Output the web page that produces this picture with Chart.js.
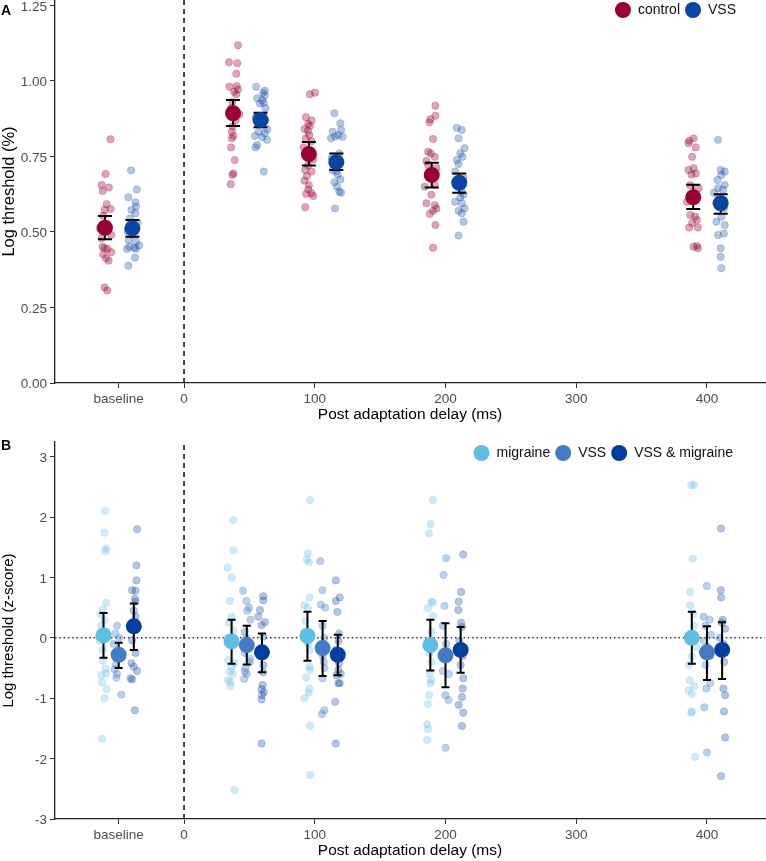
<!DOCTYPE html>
<html>
<head>
<meta charset="utf-8">
<script src="https://cdn.jsdelivr.net/npm/chart.js@4.4.1/dist/chart.umd.min.js"></script>
<style>
  html, body { margin: 0; padding: 0; background: #fff; }
  #wrapA { position: absolute; left: 0; top: 0; }
  #wrapB { position: absolute; left: 0; top: 425px; }
</style>
</head>
<body>
<div id="wrapA"><canvas id="chartA" width="766" height="425"></canvas></div>
<div id="wrapB"><canvas id="chartB" width="766" height="436"></canvas></div>
<script>
const delays = [-50, 48, 106, 200, 400];
const xTicks = [-50, 0, 100, 200, 300, 400];
const yTicksA = [0, 0.25, 0.5, 0.75, 1, 1.25];
const yTicksB = [-3, -2, -1, 0, 1, 2, 3];

// panel A, group means with error bars
const controlMean = [0.514, 0.893, 0.758, 0.689, 0.615];
const controlLo = [0.476, 0.851, 0.720, 0.647, 0.576];
const controlHi = [0.553, 0.937, 0.798, 0.729, 0.656];
const vssMeanA = [0.512, 0.871, 0.731, 0.663, 0.595];
const vssLoA = [0.484, 0.847, 0.705, 0.630, 0.560];
const vssHiA = [0.540, 0.895, 0.760, 0.694, 0.625];

// panel A, participants: [jitter, value] per delay
const controlPts = [
  [[4.3,0.807],[0.5,0.692],[-2.5,0.656],[3.0,0.647],[-1.8,0.636],[1.3,0.592],[-0.3,0.573],[4.3,0.576],[-1.3,0.554],[-3.8,0.512],[4.8,0.49],[-2.5,0.479],[-1.8,0.451],[-0.3,0.446],[1.8,0.444],[4.8,0.433],[-1.3,0.426],[0.8,0.413],[2.8,0.405],[-0.3,0.316],[1.8,0.306]],
  [[3.8,1.118],[-3.1,1.062],[3.2,1.059],[2.5,1.024],[-2.8,0.981],[2.8,0.983],[3.8,0.972],[0.8,0.964],[2.5,0.956],[-0.5,0.93],[-1.5,0.91],[4.8,0.89],[2.0,0.87],[-0.3,0.849],[-1.0,0.832],[0.3,0.818],[-1.0,0.810],[-1.5,0.780],[1.3,0.738],[0.3,0.694],[-0.5,0.689],[-1.8,0.658]],
  [[0.8,0.956],[4.6,0.961],[-2.3,0.880],[2.0,0.869],[-0.5,0.858],[0.8,0.851],[-3.3,0.841],[-0.8,0.835],[0.3,0.821],[-2.3,0.810],[2.0,0.80],[-4.1,0.78],[3.3,0.74],[-0.5,0.72],[-2.8,0.705],[2.0,0.700],[-1.5,0.685],[-3.3,0.670],[0.0,0.655],[-0.5,0.641],[-2.0,0.626],[2.0,0.628],[3.3,0.619],[-2.8,0.582]],
  [[2.8,0.918],[2.8,0.885],[-1.0,0.873],[-1.8,0.863],[1.0,0.808],[-2.8,0.766],[-0.8,0.76],[2.3,0.749],[-4.1,0.735],[-2.8,0.722],[3.6,0.711],[-1.5,0.683],[2.3,0.656],[-5.4,0.650],[-0.3,0.623],[-4.1,0.595],[2.3,0.589],[3.6,0.578],[1.0,0.570],[-1.5,0.56],[2.8,0.523],[1.0,0.448]],
  [[-3.1,0.802],[0.3,0.810],[2.0,0.780],[-3.6,0.794],[-0.8,0.749],[0.3,0.711],[-3.6,0.705],[2.0,0.694],[-1.3,0.69],[4.1,0.645],[-2.3,0.655],[1.5,0.62],[-4.8,0.60],[-2.3,0.556],[1.5,0.551],[2.8,0.540],[-3.1,0.515],[3.6,0.515],[-0.8,0.53],[0.3,0.451],[3.6,0.446],[2.8,0.454]]
];
const vssPtsA = [
  [[-1.0,0.704],[3.3,0.641],[-3.1,0.615],[2.3,0.598],[2.8,0.584],[-0.7,0.573],[2.3,0.562],[-1.8,0.545],[4.0,0.53],[-3.6,0.501],[0.0,0.49],[-2.8,0.473],[2.8,0.468],[-2.3,0.451],[1.5,0.448],[5.1,0.455],[-4.1,0.444],[2.8,0.444],[2.0,0.415],[-3.1,0.388]],
  [[-3.3,0.981],[3.3,0.968],[2.0,0.961],[3.3,0.952],[-2.5,0.943],[1.3,0.937],[-0.5,0.925],[2.5,0.928],[3.8,0.91],[-3.8,0.88],[3.8,0.87],[5.1,0.84],[-1.3,0.832],[3.3,0.827],[-4.3,0.818],[1.3,0.814],[5.1,0.805],[-2.5,0.788],[-3.8,0.780],[2.5,0.700]],
  [[-1.5,0.893],[3.1,0.860],[-2.8,0.832],[3.6,0.838],[1.5,0.821],[-1.0,0.816],[4.8,0.815],[-4.1,0.810],[2.3,0.760],[-3.6,0.745],[-2.8,0.705],[-0.3,0.70],[1.0,0.69],[3.1,0.674],[-1.5,0.665],[0.5,0.650],[2.3,0.634],[3.6,0.63],[-1.0,0.578]],
  [[-1.8,0.845],[2.0,0.838],[-0.5,0.810],[4.1,0.777],[0.8,0.760],[2.5,0.749],[-1.8,0.738],[-0.5,0.725],[-3.1,0.70],[3.3,0.678],[-1.8,0.656],[2.0,0.634],[3.3,0.623],[0.8,0.615],[-3.1,0.600],[2.0,0.595],[4.1,0.578],[-0.5,0.57],[2.0,0.562],[3.3,0.534],[-0.5,0.488]],
  [[-2.0,0.805],[0.0,0.705],[3.1,0.700],[0.5,0.689],[-2.5,0.672],[3.1,0.656],[-2.0,0.645],[1.8,0.64],[-5.1,0.63],[-0.8,0.617],[2.5,0.605],[-3.3,0.595],[1.5,0.585],[2.5,0.578],[-3.3,0.534],[0.5,0.55],[3.1,0.523],[-2.0,0.490],[2.5,0.495],[0.0,0.446],[0.0,0.418],[0.5,0.380]]
];

// panel B, z-scored group means with error bars
const migMean = [0.04, -0.06, 0.03, -0.12, 0.00];
const migLo = [-0.33, -0.43, -0.38, -0.54, -0.43];
const migHi = [0.41, 0.30, 0.43, 0.30, 0.43];
const vssMeanB = [-0.28, -0.12, -0.17, -0.29, -0.24];
const vssLoB = [-0.50, -0.44, -0.63, -0.82, -0.70];
const vssHiB = [-0.08, 0.20, 0.28, 0.24, 0.19];
const bothMean = [0.19, -0.24, -0.28, -0.20, -0.20];
const bothLo = [-0.20, -0.57, -0.62, -0.58, -0.68];
const bothHi = [0.57, 0.07, 0.05, 0.18, 0.26];

const migPts = [
  [[1.3,2.10],[0.8,1.74],[2.0,1.48],[1.5,1.44],[2.0,0.58],[-0.5,0.47],[-2.3,0.39],[0.8,0.29],[-1.8,0.20],[2.0,0.10],[-3.1,-0.05],[-0.5,-0.20],[-0.5,-0.38],[1.5,-0.51],[2.0,-0.59],[-1.8,-0.62],[-1.0,-0.74],[2.5,-0.85],[0.8,-1.00],[-1.0,-1.67]],
  [[1.3,1.95],[1.3,1.45],[-3.1,1.16],[0.0,1.00],[-1.3,0.61],[0.0,0.35],[-2.0,0.25],[1.3,0.12],[-3.6,0.00],[0.5,-0.10],[-2.8,-0.37],[2.3,-0.42],[0.0,-0.48],[-1.3,-0.56],[1.0,-0.60],[-2.8,-0.70],[-0.8,-0.73],[-1.0,-0.80],[2.0,-2.52]],
  [[2.0,2.28],[0.3,1.40],[-0.5,1.30],[1.0,1.25],[1.5,0.67],[-2.3,0.54],[0.3,0.50],[-1.5,0.28],[-2.3,0.10],[0.3,-0.10],[1.5,-0.20],[1.5,-0.48],[2.0,-0.53],[-1.0,-0.66],[1.5,-0.84],[1.0,-0.91],[-2.3,-1.00],[2.0,-1.46],[2.0,-2.27]],
  [[2.0,2.28],[0.3,1.88],[-1.0,1.73],[0.8,0.60],[2.0,0.58],[-1.8,0.49],[2.0,0.36],[0.8,0.10],[-0.5,-0.25],[0.8,-0.40],[-0.5,-0.59],[0.8,-0.70],[0.0,-0.75],[-1.0,-0.95],[-1.8,-1.10],[-2.3,-1.43],[-1.8,-1.51],[-2.5,-1.69]],
  [[-0.5,2.53],[1.8,2.53],[0.8,1.31],[-1.3,0.76],[-1.3,0.54],[1.3,0.40],[1.8,0.20],[0.0,0.05],[3.3,-0.15],[0.0,-0.31],[-2.0,-0.45],[-1.8,-0.70],[1.8,-0.80],[-2.5,-0.87],[0.0,-0.93],[0.0,-1.22],[-0.5,-1.24],[2.5,-1.97]]
];
const vssPtsB = [
  [[-1.3,0.20],[-2.5,0.07],[0.5,0.00],[-3.8,-0.10],[0.5,-0.25],[-2.0,-0.44],[-3.1,-0.52],[-1.3,-0.60],[-1.8,-0.66],[2.0,-0.94]],
  [[-2.8,0.78],[-0.3,0.61],[1.8,0.50],[0.3,0.45],[2.8,0.30],[-1.5,0.10],[-0.3,0.00],[1.0,-0.12],[-1.5,-0.25],[2.3,-0.35],[2.3,-0.40],[-1.0,-0.50],[-1.5,-0.56],[0.0,-0.60],[-2.0,-0.68]],
  [[-1.8,1.27],[0.0,0.79],[-1.3,0.55],[2.0,0.50],[0.0,0.20],[1.3,0.00],[-1.3,-0.15],[0.0,-0.30],[0.8,-0.40],[1.5,-0.50],[0.0,-0.67],[1.3,-1.20],[-0.5,-1.26]],
  [[0.5,1.32],[-1.5,1.04],[-0.8,0.53],[-2.0,0.20],[0.5,-0.10],[2.5,-0.30],[-2.0,-0.55],[2.5,-0.60],[0.0,-0.95],[2.3,-1.03],[0.0,-1.82]],
  [[0.0,0.86],[-2.5,0.35],[2.0,0.30],[-1.3,0.20],[3.1,0.05],[-2.5,-0.05],[0.5,-0.15],[2.5,-0.30],[-1.0,-0.45],[2.5,-0.75],[-0.5,-0.84],[-2.0,-1.15],[0.0,-1.90]]
];
const bothPts = [
  [[2.5,1.80],[2.0,1.20],[2.0,0.95],[-1.3,0.79],[1.3,0.78],[0.8,0.65],[1.3,0.60],[0.0,0.45],[1.3,0.35],[-2.5,0.15],[-1.3,-0.04],[1.3,-0.25],[-1.8,-0.42],[0.0,-0.48],[2.5,-0.55],[-2.5,-0.67],[-1.3,-0.69],[0.8,-1.20]],
  [[1.0,0.69],[1.0,0.62],[-1.5,0.46],[-2.8,0.35],[2.3,0.26],[-0.3,0.21],[1.0,0.02],[0.5,-0.18],[-0.3,-0.30],[1.0,-0.45],[1.0,-0.57],[0.5,-0.78],[-0.3,-0.85],[1.5,-0.90],[0.0,-0.95],[-0.3,-1.02],[-0.3,-1.75]],
  [[-1.5,0.95],[1.5,0.67],[-1.5,0.61],[-0.3,0.43],[1.0,0.07],[0.5,-0.05],[-1.5,-0.20],[1.5,-0.30],[1.0,-0.42],[0.5,-0.53],[2.3,-0.60],[-1.0,-0.62],[0.5,-0.75],[1.5,-0.75],[-2.0,-1.06],[-1.5,-1.75]],
  [[2.0,1.38],[0.3,0.76],[-1.5,0.60],[-1.8,0.46],[0.3,0.25],[1.0,0.18],[-1.0,-0.05],[1.5,-0.18],[1.5,-0.30],[0.0,-0.45],[2.0,-0.67],[1.5,-0.84],[1.0,-0.98],[-1.5,-1.11],[2.0,-1.24],[1.0,-1.46]],
  [[-0.8,1.81],[-1.0,0.79],[-0.8,0.67],[0.5,0.30],[-0.3,0.25],[2.3,0.15],[-2.0,0.00],[1.0,-0.10],[0.5,-0.25],[1.5,-0.40],[1.0,-0.84],[2.3,-0.95],[1.5,-1.22],[2.3,-1.65],[-0.8,-2.29]]
];

const family = '"Liberation Sans", Arial, sans-serif';
Chart.defaults.font.family = family;

function rgba(hex, a) {
  const n = parseInt(hex.slice(1), 16);
  return `rgba(${n >> 16}, ${(n >> 8) & 255}, ${n & 255}, ${a})`;
}

function jitterSet(label, groups, shift, color, alpha) {
  const data = [];
  groups.forEach((pts, g) => pts.forEach(([dx, y]) => data.push({ x: delays[g] + shift + dx, y })));
  return {
    label, data, order: 4,
    pointRadius: 3.7, pointHoverRadius: 3.7,
    backgroundColor: rgba(color, alpha), borderColor: rgba(color, alpha * 0.8), borderWidth: 0.8
  };
}

function meanSet(label, mean, lo, hi, shift, color) {
  return {
    label, isMean: true, order: 1,
    data: mean.map((m, g) => ({ x: delays[g] + shift, y: m, lo: lo[g], hi: hi[g] })),
    pointRadius: 8, pointHoverRadius: 8,
    backgroundColor: color, borderColor: color, borderWidth: 0
  };
}

function refLine(points, dash, width) {
  return {
    label: '', data: points, order: 6, showLine: true,
    pointRadius: 0, borderColor: '#333', borderWidth: width, borderDash: dash, fill: false
  };
}

// error bars drawn right before each group-mean dataset
const errorBars = {
  id: 'errorBars',
  beforeDatasetDraw(chart, args, opts) {
    const ds = chart.data.datasets[args.index];
    if (!ds.isMean) return;
    const { ctx, scales: { x, y } } = chart;
    ctx.save();
    ctx.strokeStyle = '#000';
    ctx.lineWidth = opts.width;
    ds.data.forEach(p => {
      const px = x.getPixelForValue(p.x);
      const top = y.getPixelForValue(p.hi);
      const bot = y.getPixelForValue(p.lo);
      ctx.beginPath();
      ctx.moveTo(px, top); ctx.lineTo(px, bot);
      ctx.moveTo(px - opts.cap, top); ctx.lineTo(px + opts.cap, top);
      ctx.moveTo(px - opts.cap, bot); ctx.lineTo(px + opts.cap, bot);
      ctx.stroke();
    });
    ctx.restore();
  }
};

// legend inside the plot, top right, plus the panel letter
const insideLegend = {
  id: 'insideLegend',
  afterDraw(chart, args, opts) {
    const { ctx, chartArea } = chart;
    const items = chart.data.datasets.filter(d => d.isMean);
    ctx.save();
    ctx.font = `14px ${family}`;
    ctx.textBaseline = 'middle';
    const widths = items.map(d => ctx.measureText(d.label).width);
    const total = widths.reduce((s, w) => s + 15 + w, 0) + 13 * (items.length - 1);
    let cx = chartArea.right - opts.right - total;
    const cy = chartArea.top + opts.top;
    items.forEach((d, i) => {
      ctx.fillStyle = d.backgroundColor;
      ctx.beginPath();
      ctx.arc(cx, cy, 8, 0, Math.PI * 2);
      ctx.fill();
      ctx.fillStyle = '#111';
      ctx.fillText(d.label, cx + 15, cy + 0.5);
      cx += 15 + widths[i] + 13;
    });
    ctx.font = `bold 14px ${family}`;
    ctx.fillStyle = '#000';
    ctx.fillText(opts.letter, 1, opts.letterY);
    ctx.restore();
  }
};

function makeScales(yMin, yMax, yTicks, yTitle, digits, titleSize) {
  return {
    x: {
      type: 'linear', min: -98.7, max: 444.4,
      afterBuildTicks: s => { s.ticks = xTicks.map(v => ({ value: v })); },
      afterFit: s => { s.height = 42; s.paddingLeft = 0; s.paddingRight = 0; },
      grid: { drawOnChartArea: false, drawTicks: true, tickLength: 5, color: '#333', lineWidth: 1 },
      border: { display: true, color: '#222', width: 1.3 },
      ticks: {
        padding: 3, color: '#4d4d4d', font: { size: 13.5 }, maxRotation: 0, autoSkip: false,
        callback: v => v === -50 ? 'baseline' : String(v)
      },
      title: { display: true, text: 'Post adaptation delay (ms)', color: '#000', font: { size: 15.5 }, padding: { top: 0, bottom: 1 } }
    },
    y: {
      type: 'linear', min: yMin, max: yMax,
      afterBuildTicks: s => { s.ticks = yTicks.map(v => ({ value: v })); },
      afterFit: s => { s.width = 55; s.paddingTop = 0; s.paddingBottom = 0; },
      grid: { drawOnChartArea: false, drawTicks: true, tickLength: 5, color: '#333', lineWidth: 1 },
      border: { display: true, color: '#222', width: 1.3 },
      ticks: { padding: 3, labelOffset: 1.5, color: '#4d4d4d', font: { size: 13.5 }, callback: v => v.toFixed(digits) },
      title: { display: true, text: yTitle, color: '#000', font: { size: titleSize }, padding: { top: 0, bottom: 0 } }
    }
  };
}

function baseOptions(scales, top, legendOpts) {
  return {
    responsive: false, animation: false, devicePixelRatio: 1,
    layout: { padding: { top, right: 1, left: 0, bottom: 0 }, autoPadding: false },
    scales,
    plugins: {
      legend: { display: false }, tooltip: { enabled: false },
      errorBars: legendOpts.bars,
      insideLegend: legendOpts.legend
    }
  };
}

const dodgeA = 10.5;
const yMinA = 0, yMaxA = 1.268;
new Chart(document.getElementById('chartA'), {
  type: 'scatter',
  data: {
    datasets: [
      meanSet('control', controlMean, controlLo, controlHi, -dodgeA, '#9a0036'),
      meanSet('VSS', vssMeanA, vssLoA, vssHiA, dodgeA, '#0a45a2'),
      jitterSet('control', controlPts, -dodgeA, '#9a0036', 0.35),
      jitterSet('VSS', vssPtsA, dodgeA, '#0a45a2', 0.3),
      refLine([{ x: 0, y: yMinA }, { x: 0, y: yMaxA }], [5, 4], 1.8)
    ]
  },
  options: baseOptions(makeScales(yMinA, yMaxA, yTicksA, 'Log threshold (%)', 2, 16.5), 0, {
    bars: { width: 2, cap: 7 },
    legend: { right: 29, top: 10, letter: 'A', letterY: 11 }
  }),
  plugins: [errorBars, insideLegend]
});

const dodgeB = 11.6;
const yMinB = -3, yMaxB = 3.243;
new Chart(document.getElementById('chartB'), {
  type: 'scatter',
  data: {
    datasets: [
      meanSet('migraine', migMean, migLo, migHi, -dodgeB, '#60bde3'),
      meanSet('VSS', vssMeanB, vssLoB, vssHiB, 0, '#417cc4'),
      meanSet('VSS & migraine', bothMean, bothLo, bothHi, dodgeB, '#023e9e'),
      jitterSet('migraine', migPts, -dodgeB, '#60bde3', 0.3),
      jitterSet('VSS', vssPtsB, 0, '#417cc4', 0.35),
      jitterSet('VSS & migraine', bothPts, dodgeB, '#023e9e', 0.3),
      refLine([{ x: 0, y: yMinB }, { x: 0, y: yMaxB }], [5, 4], 1.8),
      refLine([{ x: -98.7, y: 0 }, { x: 444.4, y: 0 }], [1.5, 2.8], 1.5)
    ]
  },
  options: baseOptions(makeScales(yMinB, yMaxB, yTicksB, 'Log threshold (z-score)', 0, 15), 17, {
    bars: { width: 2, cap: 4 },
    legend: { right: 32, top: 11, letter: 'B', letterY: 21 }
  }),
  plugins: [errorBars, insideLegend]
});
</script>
</body>
</html>
